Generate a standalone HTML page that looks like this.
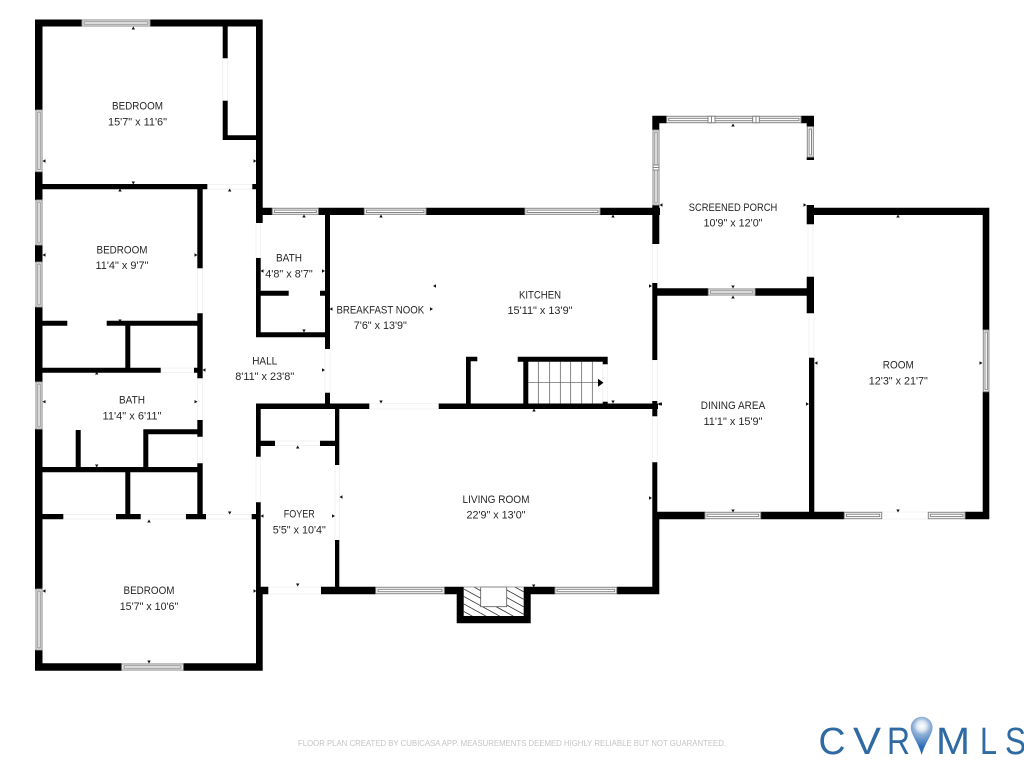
<!DOCTYPE html>
<html lang="en">
<head>
<meta charset="utf-8">
<title>Floor plan</title>
<style>
html,body{margin:0;padding:0;background:#fff;width:1024px;height:768px;overflow:hidden}
svg{display:block}
text{font-family:"Liberation Sans",sans-serif}
.l text{font-size:11px;fill:#262626;text-anchor:middle}
.w rect{fill:#fff;stroke:#858585;stroke-width:1}
.d rect{fill:#fff;stroke:#f0f0f0;stroke-width:.8}
.g text{font-size:38px;fill:#2f6aa3}
</style>
</head>
<body>
<svg width="1024" height="768" viewBox="0 0 1024 768" xmlns="http://www.w3.org/2000/svg">
<defs>
<radialGradient id="pin" cx="921.7" cy="726" r="29" gradientUnits="userSpaceOnUse">
<stop offset="0" stop-color="#ffffff"/><stop offset=".16" stop-color="#dfe8f3"/><stop offset=".3" stop-color="#8fb0d6"/><stop offset=".7" stop-color="#2f6fb8"/><stop offset="1" stop-color="#1f5ea8"/>
</radialGradient>
<clipPath id="hatch"><path d="M463.7 587H480.7V606.7H506.7V587H523.7V616H463.7Z"/></clipPath>
</defs>

<!-- door openings -->
<g class="d">
<rect x="207.3" y="184.5" width="45" height="4.5"/>
<rect x="161" y="368" width="33" height="4.5"/>
<rect x="63.3" y="514.5" width="52.7" height="4.5"/>
<rect x="140.7" y="514.5" width="45.3" height="4.5"/>
<rect x="206" y="514.5" width="45.7" height="4.5"/>
<rect x="275" y="441" width="45" height="4.5"/>
<rect x="268.3" y="587" width="52.7" height="7"/>
<rect x="369.3" y="403.5" width="69.4" height="5.5"/>
<rect x="881.7" y="512" width="46.6" height="7"/>
<rect x="256" y="223" width="4.7" height="35"/>
<rect x="222.7" y="58.3" width="5" height="42.4"/>
<rect x="325" y="349" width="5" height="43.7"/>
<rect x="335" y="465" width="4.3" height="75"/>
<rect x="256" y="456.7" width="4.7" height="45.6"/>
<rect x="652.3" y="244" width="5" height="39.3"/>
<rect x="652.3" y="360" width="5" height="41"/>
<rect x="652.3" y="416.3" width="5" height="46"/>
<rect x="808" y="224.3" width="5" height="52.4"/>
<rect x="809" y="313.3" width="5" height="44.4"/>
<rect x="197.5" y="268.3" width="5" height="45"/>
<rect x="197.5" y="378.3" width="5" height="41.7"/>
<rect x="197.5" y="436.7" width="5" height="26.6"/>
<rect x="602.7" y="364.3" width="5" height="37.4"/>
</g>

<!-- walls -->
<path fill="#000" d="
M35 19.5H81.7V26.5H35Z
M150 19.5H262.7V26.5H150Z
M35 19.5H42.5V110H35Z
M35 171.7H42.5V200H35Z
M35 245H42.5V262H35Z
M35 307H42.5V381.7H35Z
M35 429H42.5V589H35Z
M35 650H42.5V670.7H35Z
M35 663.3H121.7V670.7H35Z
M183.3 663.3H262.7V670.7H183.3Z
M256 19.5H262.7V223H256Z
M256 258H260.7V337H256Z
M222.7 26H227.7V58.3H222.7Z
M222.7 100.7H227.7V140H222.7Z
M222.7 135.3H256V140H222.7Z
M42 184H207.3V189.3H42Z
M252.3 184H256V189.3H252.3Z
M197.3 189H202.7V268.3H197.3Z
M197.3 313.3H202.7V378.3H197.3Z
M42 320.7H67.3V325.7H42Z
M106.7 320.7H200V325.7H106.7Z
M125.3 325H130.3V368H125.3Z
M42 367.7H160.7V372.7H42Z
M194 367.7H202.7V372.7H194Z
M197.3 420H202.7V436.7H197.3Z
M143.3 429.3H200V434.3H143.3Z
M143.3 429.3H148.3V468H143.3Z
M75.7 430H80.7V468H75.7Z
M42 467H200V472.3H42Z
M197.3 463.3H202.7V514H197.3Z
M125.3 472H130.3V515H125.3Z
M42 514H63.3V519.3H42Z
M116 514H140.7V519.3H116Z
M186 514H206V519.3H186Z
M251.7 514H260.7V519.3H251.7Z
M256 502.3H260.7V590H256Z
M256 587H262.7V670.7H256Z
M256 404H260.7V456.7H256Z
M256 403.5H369.3V409H256Z
M438.7 403.5H658V409H438.7Z
M335 404H339.3V465H335Z
M335 540H339.3V590H335Z
M260 440.7H275V446H260Z
M320 440.7H335V446H320Z
M256 586.7H268.3V594.3H256Z
M321 586.7H375.7V594.3H321Z
M444.3 586.7H463.7V594.3H444.3Z
M523.7 586.7H555V594.3H523.7Z
M616.7 586.7H659.3V594.3H616.7Z
M456.7 587H463.7V623.3H456.7Z
M523.7 587H530.7V623.3H523.7Z
M456.7 616H530.7V623.3H456.7Z
M652.3 512H659.3V594.3H652.3Z
M262 207.7H272.3V215H262Z
M318.3 207.7H364.3V215H318.3Z
M426 207.7H525V215H426Z
M600 207.7H660V215H600Z
M325 215H330V349H325Z
M325 392.7H330V405H325Z
M260 290.7H288.7V295.7H260Z
M320 290.7H325V295.7H320Z
M256 332.3H325V337.3H256Z
M652.3 207.7H659.3V244H652.3Z
M652.3 283H657.3V360H652.3Z
M652.3 401H657.3V416.3H652.3Z
M652.3 462.3H657.3V512H652.3Z
M652.3 115.7H666.7V123.3H652.3Z
M652.3 115.7H659.3V130H652.3Z
M801 115.7H814V123.3H801Z
M806.7 115.7H814V126.7H806.7Z
M806.7 157H814V160H806.7Z
M652.3 205H659.3V244H652.3Z
M806.7 205H814V224.3H806.7Z
M806.7 276.7H814V313.3H806.7Z
M809 357.7H814.3V514H809Z
M806.7 207.7H989.3V215H806.7Z
M982.7 207.7H989.3V330H982.7Z
M982.7 391.7H989.3V519.3H982.7Z
M657 511.7H705V519.3H657Z
M760.7 511.7H844.3V519.3H760.7Z
M965 511.7H989.3V519.3H965Z
M657 288.3H708.3V295.7H657Z
M755 288.3H809V295.7H755Z
M466 356.7H470.7V405H466Z
M466 356.7H477.3V361.3H466Z
M517.7 356.7H607.7V361.7H517.7Z
M602.7 356.7H607.7V364.3H602.7Z
M523.3 356.7H528.3V405H523.3Z
M602.7 401.7H607.7V405H602.7Z"/>

<!-- windows -->
<g class="w">
<rect x="82" y="20" width="68" height="6"/><rect x="84" y="21.8" width="64" height="2.4"/>
<rect x="36" y="110" width="6" height="61.7"/><rect x="37.8" y="112" width="2.4" height="57.7"/>
<rect x="36" y="200" width="6" height="45"/><rect x="37.8" y="202" width="2.4" height="41"/>
<rect x="36" y="262" width="6" height="45"/><rect x="37.8" y="264" width="2.4" height="41"/>
<rect x="36" y="382" width="6" height="47"/><rect x="37.8" y="384" width="2.4" height="43"/>
<rect x="36" y="589" width="6" height="61"/><rect x="37.8" y="591" width="2.4" height="57"/>
<rect x="121.7" y="664" width="61.6" height="6"/><rect x="124" y="665.8" width="57" height="2.4"/>
<rect x="272.3" y="208.3" width="46" height="6"/><rect x="274.3" y="210.1" width="42" height="2.4"/>
<rect x="364.3" y="208.3" width="61.7" height="6"/><rect x="366.3" y="210.1" width="57.7" height="2.4"/>
<rect x="525" y="208.3" width="75" height="6"/><rect x="527" y="210.1" width="71" height="2.4"/>
<rect x="375.7" y="587.3" width="68.6" height="6.4"/><rect x="378" y="589.3" width="64" height="2.4"/>
<rect x="555" y="587.3" width="61.7" height="6.4"/><rect x="557" y="589.3" width="57.7" height="2.4"/>
<rect x="666.7" y="116.3" width="134.3" height="6.4"/><rect x="668.7" y="118.3" width="39.3" height="2.4"/><rect x="715" y="118.3" width="37.7" height="2.4"/><rect x="759.3" y="118.3" width="39.7" height="2.4"/>
<rect x="708" y="116.3" width="3.5" height="6.4"/><rect x="711.5" y="116.3" width="3.5" height="6.4"/><rect x="752.7" y="116.3" width="3.3" height="6.4"/><rect x="756" y="116.3" width="3.3" height="6.4"/>
<rect x="653" y="130" width="6" height="75"/><rect x="654.8" y="132" width="2.4" height="33"/><rect x="654.8" y="170" width="2.4" height="33"/>
<rect x="653" y="165" width="6" height="2.5"/><rect x="653" y="167.5" width="6" height="2.5"/>
<rect x="807.3" y="126.7" width="6" height="30.3"/><rect x="809.1" y="129" width="2.4" height="26"/>
<rect x="708.3" y="289" width="46.7" height="6"/><rect x="710.3" y="290.8" width="42.7" height="2.4"/>
<rect x="705" y="512.3" width="55.7" height="6.4"/><rect x="707" y="514.2" width="51.7" height="2.4"/>
<rect x="844.3" y="512.3" width="37.4" height="6.4"/><rect x="846.3" y="514.2" width="33.4" height="2.4"/>
<rect x="928.3" y="512.3" width="36.7" height="6.4"/><rect x="930.3" y="514.2" width="32.7" height="2.4"/>
<rect x="983.3" y="330" width="5.6" height="61.7"/><rect x="985" y="332" width="2.4" height="57.7"/>
</g>

<!-- stairs -->
<g stroke="#555" stroke-width=".7" fill="none">
<path d="M538.3 361.7V403.5M549.7 361.7V403.5M560.3 361.7V403.5M570.7 361.7V403.5M581.7 361.7V403.5M592.3 361.7V403.5M528.3 382.7H600"/>
</g>
<path d="M598 378.7L603.5 382.7L598 386.7Z" fill="#000"/>

<!-- fireplace -->
<g clip-path="url(#hatch)" stroke="#333" stroke-width=".8">
<path d="M463 558.5L524 592M463 566L524 599.5M463 573.5L524 607M463 581L524 614.5M463 588.5L524 622M463 596L524 629.5M463 603.5L524 637M463 611L524 644.5"/>
</g>
<rect x="480.7" y="587" width="26" height="19.7" fill="#fff" stroke="#555" stroke-width=".8"/>
<path d="M463.7 587H523.7" stroke="#888" stroke-width=".8"/>

<!-- dimension ticks -->
<path fill="#111" d="
M133.3 26.5l-1.7 3h3.4z M120 188.5l-1.7 3h3.4z M229.7 188.5l-1.7 3h3.4z M304 214.5l-1.7 3h3.4z M96.7 371.5l-1.7 3h3.4z M149 519.5l-1.7 3h3.4z M297.7 445.5l-1.7 3h3.4z M381 214.5l-1.7 3h3.4z M613 214.5l-1.7 3h3.4z M534 408.5l-1.7 3h3.4z M733 123.5l-1.7 3h3.4z M898 214.5l-1.7 3h3.4z M733 295.5l-1.7 3h3.4z
M133.3 184.5l-1.7 -3h3.4z M120 322.5l-1.7 -3h3.4z M304 332.5l-1.7 -3h3.4z M96.7 467.5l-1.7 -3h3.4z M229.7 514.5l-1.7 -3h3.4z M297.7 586.5l-1.7 -3h3.4z M149 663.5l-1.7 -3h3.4z M381 403.5l-1.7 -3h3.4z M613 403.5l-1.7 -3h3.4z M733 288.5l-1.7 -3h3.4z M733 512.5l-1.7 -3h3.4z M898 512.5l-1.7 -3h3.4z M533.7 587.5l-1.7 -3h3.4z
M42.5 161l3 -1.7v3.4z M42.5 255l3 -1.7v3.4z M260.5 271l3 -1.7v3.4z M329.5 309l3 -1.7v3.4z M42.5 401.7l3 -1.7v3.4z M202.5 370l3 -1.7v3.4z M260.5 516l3 -1.7v3.4z M339.5 497l3 -1.7v3.4z M42.5 591l3 -1.7v3.4z M433 286l3 -1.7v3.4z M659 404l3 -1.7v3.4z M659.5 205l3 -1.7v3.4z M814.5 363l3 -1.7v3.4z M657.5 404l3 -1.7v3.4z
M256.5 161l-3 -1.7v3.4z M197.5 255l-3 -1.7v3.4z M325 271l-3 -1.7v3.4z M197.5 401.7l-3 -1.7v3.4z M335 516l-3 -1.7v3.4z M256.5 591l-3 -1.7v3.4z M325 370l-3 -1.7v3.4z M433 309l-3 -1.7v3.4z M652 286l-3 -1.7v3.4z M806.5 205l-3 -1.7v3.4z M982.5 363l-3 -1.7v3.4z M809 404l-3 -1.7v3.4z M652 498l-3 -1.7v3.4z"/>

<!-- labels -->
<g class="l">
<text x="137.5" y="109.5" textLength="51" lengthAdjust="spacingAndGlyphs">BEDROOM</text>
<text x="137.5" y="125.3" textLength="59" lengthAdjust="spacingAndGlyphs">15'7" x 11'6"</text>
<text x="122" y="253.3" textLength="51" lengthAdjust="spacingAndGlyphs">BEDROOM</text>
<text x="122" y="269" textLength="53" lengthAdjust="spacingAndGlyphs">11'4" x 9'7"</text>
<text x="289" y="261.7" textLength="26" lengthAdjust="spacingAndGlyphs">BATH</text>
<text x="289" y="277.7" textLength="47.5" lengthAdjust="spacingAndGlyphs">4'8" x 8'7"</text>
<text x="132" y="403.7" textLength="26" lengthAdjust="spacingAndGlyphs">BATH</text>
<text x="132" y="419.3" textLength="59" lengthAdjust="spacingAndGlyphs">11'4" x 6'11"</text>
<text x="264.7" y="364.7" textLength="25" lengthAdjust="spacingAndGlyphs">HALL</text>
<text x="264.7" y="380" textLength="59" lengthAdjust="spacingAndGlyphs">8'11" x 23'8"</text>
<text x="299.3" y="517.3" textLength="31" lengthAdjust="spacingAndGlyphs">FOYER</text>
<text x="299.3" y="533.3" textLength="53" lengthAdjust="spacingAndGlyphs">5'5" x 10'4"</text>
<text x="149" y="594" textLength="51" lengthAdjust="spacingAndGlyphs">BEDROOM</text>
<text x="149" y="610" textLength="58.5" lengthAdjust="spacingAndGlyphs">15'7" x 10'6"</text>
<text x="380.3" y="313.3" textLength="87.7" lengthAdjust="spacingAndGlyphs">BREAKFAST NOOK</text>
<text x="380.3" y="329" textLength="53" lengthAdjust="spacingAndGlyphs">7'6" x 13'9"</text>
<text x="540" y="298.3" textLength="42" lengthAdjust="spacingAndGlyphs">KITCHEN</text>
<text x="540" y="314" textLength="65" lengthAdjust="spacingAndGlyphs">15'11" x 13'9"</text>
<text x="733" y="211" textLength="88.5" lengthAdjust="spacingAndGlyphs">SCREENED PORCH</text>
<text x="733" y="226.7" textLength="59" lengthAdjust="spacingAndGlyphs">10'9" x 12'0"</text>
<text x="898.3" y="368.7" textLength="31" lengthAdjust="spacingAndGlyphs">ROOM</text>
<text x="898.3" y="384.7" textLength="59" lengthAdjust="spacingAndGlyphs">12'3" x 21'7"</text>
<text x="733" y="409" textLength="64.5" lengthAdjust="spacingAndGlyphs">DINING AREA</text>
<text x="733" y="425" textLength="59" lengthAdjust="spacingAndGlyphs">11'1" x 15'9"</text>
<text x="496" y="503" textLength="67" lengthAdjust="spacingAndGlyphs">LIVING ROOM</text>
<text x="496" y="518.5" textLength="59" lengthAdjust="spacingAndGlyphs">22'9" x 13'0"</text>
</g>

<!-- footer -->
<text x="298" y="746" font-size="8" fill="#c4c4c4" textLength="428" lengthAdjust="spacingAndGlyphs">FLOOR PLAN CREATED BY CUBICASA APP. MEASUREMENTS DEEMED HIGHLY RELIABLE BUT NOT GUARANTEED.</text>

<!-- logo -->
<g class="g">
<text x="818.5" y="754" textLength="27" lengthAdjust="spacingAndGlyphs">C</text>
<text x="853" y="754" textLength="28" lengthAdjust="spacingAndGlyphs">V</text>
<text x="887" y="754" textLength="23" lengthAdjust="spacingAndGlyphs">R</text>
<text x="936" y="754" textLength="34" lengthAdjust="spacingAndGlyphs">M</text>
<text x="980" y="754" textLength="17" lengthAdjust="spacingAndGlyphs">L</text>
<text x="1005" y="754" textLength="21" lengthAdjust="spacingAndGlyphs">S</text>
</g>
<path d="M921.7 716.7c6 0 10.9 4.8 10.9 10.8c0 7-7.5 15-10.9 27.5c-3.4 -12.5 -10.9 -20.5 -10.9 -27.5c0 -6 4.9 -10.8 10.9 -10.8Z" fill="url(#pin)"/>
</svg>
</body>
</html>
